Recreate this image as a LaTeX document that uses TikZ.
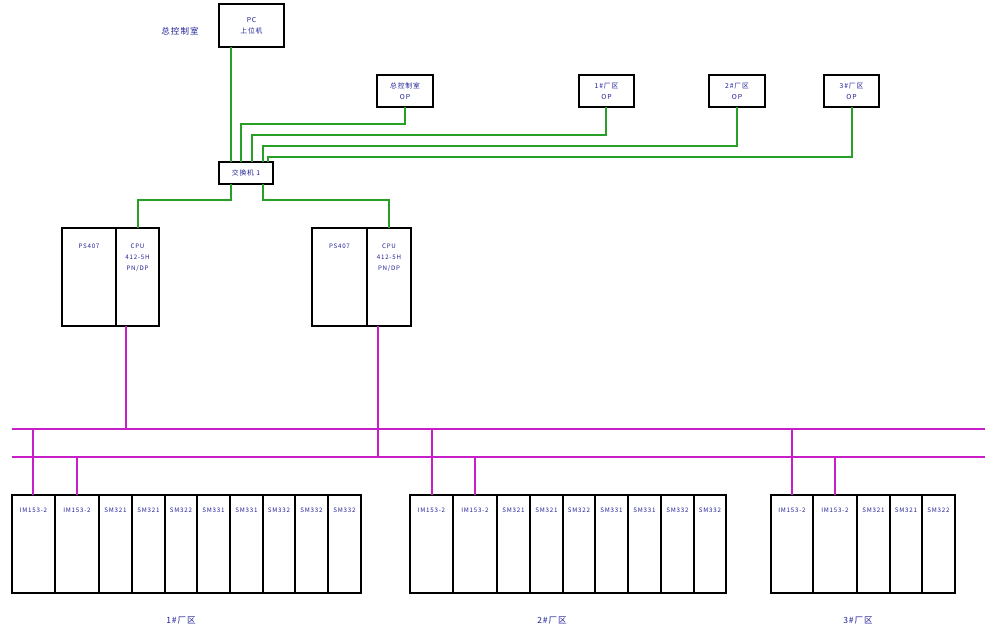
\documentclass[tikz,border=0pt]{standalone}
\usepackage{fontspec}
\newfontfamily\cjk[LetterSpace=12]{Noto Sans CJK SC}
\usetikzlibrary{calc}
\definecolor{netgreen}{RGB}{40,160,40}
\definecolor{busmag}{RGB}{200,30,200}
\definecolor{txtblue}{RGB}{30,30,150}
\tikzset{
  box/.style={draw=black, line width=1.1pt, inner sep=0pt, outer sep=0pt, anchor=north west},
  eth/.style={draw=netgreen, line width=1.3pt},
  pb/.style={draw=busmag, line width=1.3pt},
  small/.style={font=\fontsize{6.2}{10.8}\selectfont\cjk, text=txtblue, align=center, inner sep=0pt},
  mid/.style={font=\fontsize{6.8}{11}\selectfont\cjk, text=txtblue, align=center, inner sep=0pt},
  big/.style={font=\fontsize{8.5}{10}\selectfont\cjk, text=txtblue, inner sep=0pt},
}
\begin{document}
\begin{tikzpicture}[x=1pt,y=-1pt]
\useasboundingbox (0,0) rectangle (985,635);
% top devices
\node[box, minimum width=65pt, minimum height=43pt] (pc) at (219,4) {};
\node[mid] at (pc.center) {PC\\上位机};
\node[big] (ctrl) at (180,31) {总控制室};
\node[box, minimum width=56pt, minimum height=32pt] (op0) at (377,75) {};
\node[mid] at (op0.center) {总控制室\\OP};
\node[box, minimum width=55pt, minimum height=32pt] (op1) at (579,75) {};
\node[mid] at (op1.center) {1\#厂区\\OP};
\node[box, minimum width=56pt, minimum height=32pt] (op2) at (709,75) {};
\node[mid] at (op2.center) {2\#厂区\\OP};
\node[box, minimum width=55pt, minimum height=32pt] (op3) at (824,75) {};
\node[mid] at (op3.center) {3\#厂区\\OP};
\node[box, minimum width=54pt, minimum height=22pt] (sw) at (219,162) {};
\node[mid] at (sw.center) {交换机 1};
% CPU racks
\node[box, minimum width=54pt, minimum height=98pt] (ps1) at (62,228) {};
\node[box, minimum width=43pt, minimum height=98pt] (cpu1) at (116,228) {};
\node[small, anchor=north] at ([yshift=-16pt]ps1.north) {PS407};
\node[small, anchor=north] at ([yshift=-16pt]cpu1.north) {CPU\\412-5H\\PN/DP};
\node[box, minimum width=55pt, minimum height=98pt] (ps2) at (312,228) {};
\node[box, minimum width=44pt, minimum height=98pt] (cpu2) at (367,228) {};
\node[small, anchor=north] at ([yshift=-16pt]ps2.north) {PS407};
\node[small, anchor=north] at ([yshift=-16pt]cpu2.north) {CPU\\412-5H\\PN/DP};
% ethernet
\draw[eth] ([xshift=-15pt]sw.north) -- ([xshift=-15pt]sw.north |- pc.south);
\draw[eth] (op0.south) -- (op0.south |- 0,124) -| ([xshift=-5pt]sw.north);
\draw[eth] ([xshift=-0.5pt]op1.south) -- ([xshift=-0.5pt]op1.south |- 0,135) -| ([xshift=6pt]sw.north);
\draw[eth] (op2.south) -- (op2.south |- 0,146) -| ([xshift=17pt]sw.north);
\draw[eth] ([xshift=0.5pt]op3.south) -- ([xshift=0.5pt]op3.south |- 0,157) -| ([xshift=22pt]sw.north);
\draw[eth] ([xshift=-15pt]sw.south) -- ([xshift=-15pt]sw.south |- 0,200) -| ([xshift=0.5pt]cpu1.north);
\draw[eth] ([xshift=17pt]sw.south) -- ([xshift=17pt]sw.south |- 0,200) -| (cpu2.north);
% profibus
\coordinate (b1L) at (12,429); \coordinate (b1R) at (985,429);
\coordinate (b2L) at (12,457); \coordinate (b2R) at (985,457);
\draw[pb] (b1L) -- (b1R);
\draw[pb] (b2L) -- (b2R);
\draw[pb] ([xshift=-11.5pt]cpu1.south) -- ([xshift=-11.5pt]cpu1.south |- b1L);
\draw[pb] ([xshift=-11pt]cpu2.south) -- ([xshift=-11pt]cpu2.south |- b2L);
% IO racks
\foreach \a/\b/\t [count=\i] in {12/55/IM153-2,55/99/IM153-2,99/132/SM321,132/165/SM321,165/197/SM322,197/230/SM331,230/263/SM331,263/295/SM332,295/328/SM332,328/361/SM332}{
  \node[box, minimum width={(\b-\a)*1pt}, minimum height=98pt] (ra\i) at (\a,495) {};
  \node[small, anchor=north] at ([yshift=-13pt]ra\i.north) {\t};
}
\foreach \a/\b/\t [count=\i] in {410/453/IM153-2,453/497/IM153-2,497/530/SM321,530/563/SM321,563/595/SM322,595/628/SM331,628/661/SM331,661/694/SM332,694/726/SM332}{
  \node[box, minimum width={(\b-\a)*1pt}, minimum height=98pt] (rb\i) at (\a,495) {};
  \node[small, anchor=north] at ([yshift=-13pt]rb\i.north) {\t};
}
\foreach \a/\b/\t [count=\i] in {771/813/IM153-2,813/857/IM153-2,857/890/SM321,890/922/SM321,922/955/SM322}{
  \node[box, minimum width={(\b-\a)*1pt}, minimum height=98pt] (rc\i) at (\a,495) {};
  \node[small, anchor=north] at ([yshift=-13pt]rc\i.north) {\t};
}
\draw[pb] ([xshift=-0.5pt]ra1.north) -- ([xshift=-0.5pt]ra1.north |- b1L);
\draw[pb] (ra2.north) -- (ra2.north |- b2L);
\draw[pb] ([xshift=0.5pt]rb1.north) -- ([xshift=0.5pt]rb1.north |- b1L);
\draw[pb] (rb2.north) -- (rb2.north |- b2L);
\draw[pb] (rc1.north) -- (rc1.north |- b1L);
\draw[pb] (rc2.north) -- (rc2.north |- b2L);
% zone labels
\node[big] (z1) at (181,620) {1\#厂区};
\node[big] (z2) at (552,620) {2\#厂区};
\node[big] (z3) at (858,620) {3\#厂区};
\end{tikzpicture}
\end{document}
